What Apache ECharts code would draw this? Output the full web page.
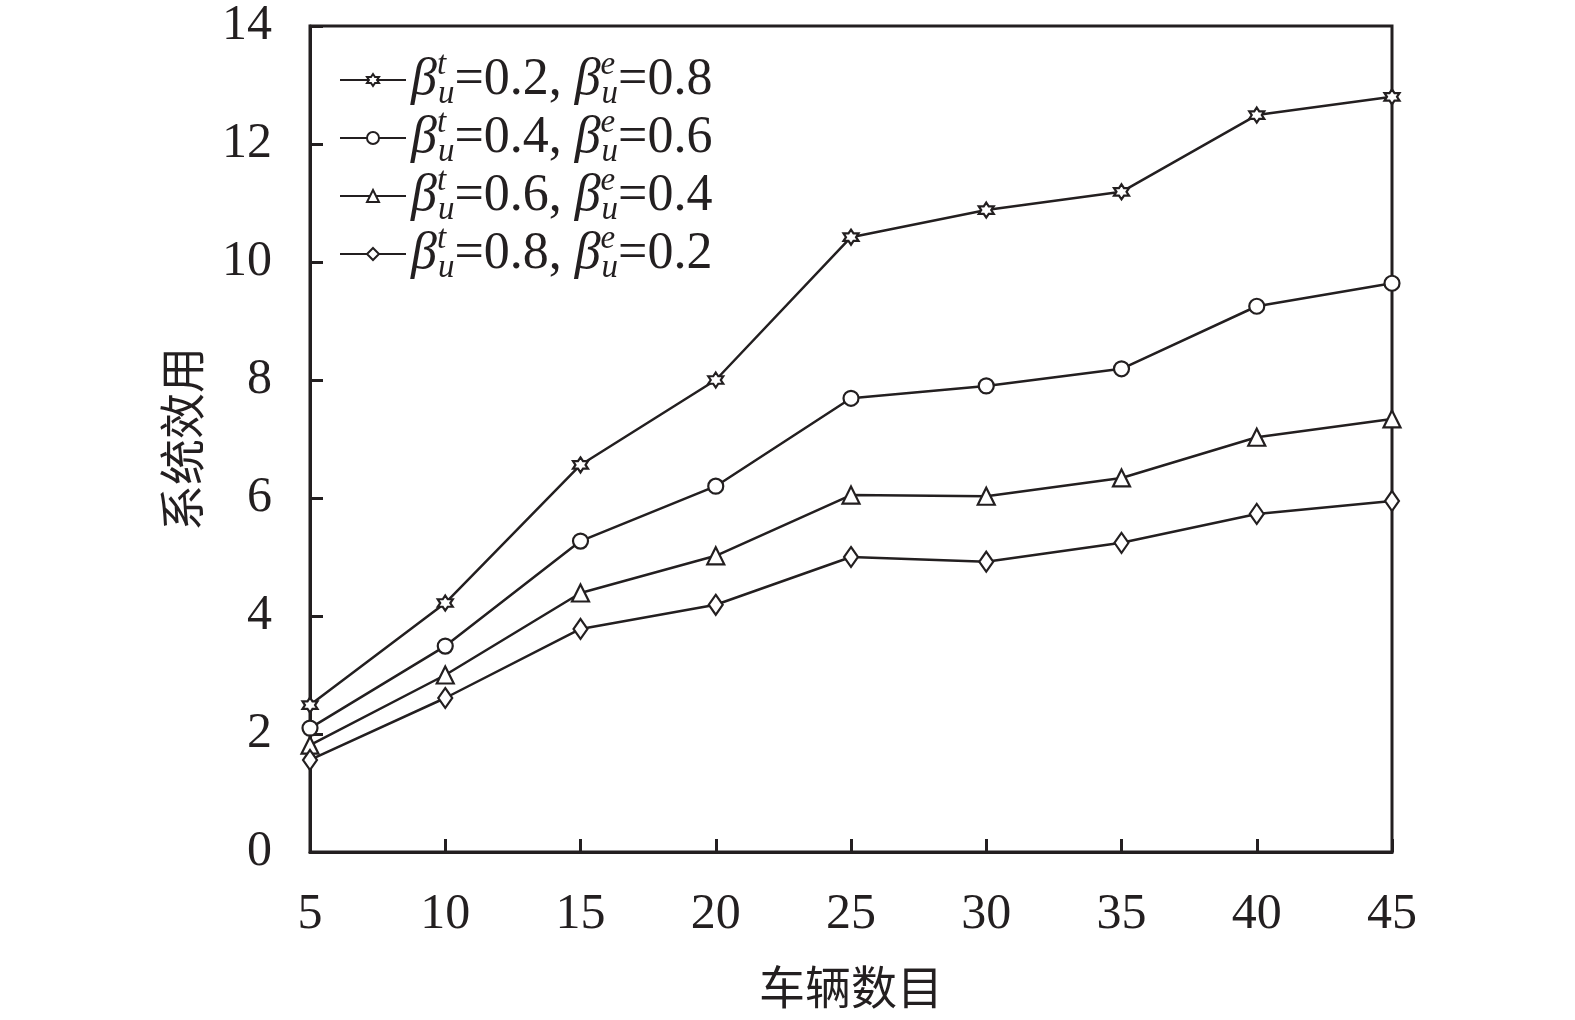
<!DOCTYPE html>
<html>
<head>
<meta charset="utf-8">
<script src="https://cdn.jsdelivr.net/npm/echarts@6/dist/echarts.min.js"></script>
<style>html,body{margin:0;padding:0;background:#fff}#c{width:1575px;height:1020px}</style>
</head>
<body>
<div id="c"></div>
<script>
const vehicles = [5, 10, 15, 20, 25, 30, 35, 40, 45];
const betaT = [0.2, 0.4, 0.6, 0.8];
const betaE = [0.8, 0.6, 0.4, 0.2];
const utilA = [2.49, 4.22, 6.56, 8.0, 10.42, 10.88, 11.19, 12.49, 12.8];
const utilB = [2.1, 3.49, 5.27, 6.2, 7.69, 7.9, 8.19, 9.25, 9.64];
const utilC = [1.81, 3.0, 4.39, 5.02, 6.05, 6.03, 6.34, 7.03, 7.34];
const utilD = [1.56, 2.61, 3.78, 4.19, 5.0, 4.92, 5.24, 5.73, 5.95];
const yTicks = [0, 2, 4, 6, 8, 10, 12, 14];
const xTitle = '车辆数目';
const yTitle = '系统效用';

const INK = '#231f20';
const SERIF = '"Liberation Serif","Times New Roman",serif';
const CJK = '"Noto Sans CJK SC",sans-serif';
const star = 'path://M0,-10 L2.9,-5 L8.66,-5 L5.8,0 L8.66,5 L2.9,5 L0,10 L-2.9,5 L-8.66,5 L-5.8,0 L-8.66,-5 L-2.9,-5 Z';
const diamond = 'path://M0,-10 L7,0 L0,10 L-7,0 Z';
const symbols = [star, 'circle', 'triangle', diamond];
const symSizes = [15, 15, 17, [14, 20]];
const allData = [utilA, utilB, utilC, utilD];

const names = betaT.map((t, i) => 'βtu=' + t + ', βeu=' + betaE[i]);

const series = allData.map((d, i) => ({
  name: names[i],
  type: 'line',
  data: d.map((v, j) => [vehicles[j], v]),
  symbol: symbols[i],
  symbolSize: symSizes[i],
  showAllSymbol: true,
  lineStyle: { color: INK, width: 2.5 },
  itemStyle: { color: '#fff', borderColor: INK, borderWidth: 2.2 },
  emphasis: { disabled: true },
  z: 3
}));

const chart = echarts.init(document.getElementById('c'), null, { renderer: 'canvas' });
chart.setOption({
  animation: false,
  backgroundColor: '#fff',
  grid: {
    left: 310, right: 183, top: 26, bottom: 168,
    show: true, borderColor: INK, borderWidth: 3, backgroundColor: 'transparent'
  },
  legend: {
    orient: 'vertical',
    left: 334, top: 44,
    itemWidth: 66, itemHeight: 15, itemGap: -4,
    selectedMode: false,
    formatter: function (name) {
      const i = names.indexOf(name);
      return '{b|β}{sp|t}{sb|u}{r|=' + betaT[i].toFixed(1) + ', }{b|β}{sp|e}{sb|u}{r|=' + betaE[i].toFixed(1) + '}';
    },
    textStyle: {
      color: INK,
      rich: {
        b: { fontFamily: SERIF, fontStyle: 'italic', fontSize: 52, color: INK, lineHeight: 62 },
        sp: { fontFamily: SERIF, fontStyle: 'italic', fontSize: 33, color: INK, verticalAlign: 'top', lineHeight: 40, width: 1 },
        sb: { fontFamily: SERIF, fontStyle: 'italic', fontSize: 33, color: INK, verticalAlign: 'bottom', lineHeight: 40 },
        r: { fontFamily: SERIF, fontSize: 52, color: INK, lineHeight: 62 }
      }
    },
    data: names
  },
  xAxis: {
    type: 'value', min: 5, max: 45, interval: 5,
    name: xTitle, nameLocation: 'middle', nameGap: 112,
    nameTextStyle: { fontFamily: CJK, fontSize: 46, color: INK },
    axisLine: { show: true, lineStyle: { color: INK, width: 3 } },
    axisTick: { show: true, inside: true, length: 13, lineStyle: { color: INK, width: 3 } },
    axisLabel: { fontFamily: SERIF, fontSize: 50, color: INK, margin: 38 },
    splitLine: { show: false }
  },
  yAxis: {
    type: 'value', min: yTicks[0], max: yTicks[yTicks.length - 1], interval: 2,
    name: yTitle, nameLocation: 'middle', nameGap: 105, nameRotate: 90,
    nameTextStyle: { fontFamily: CJK, fontSize: 46, color: INK },
    axisLine: { show: true, lineStyle: { color: INK, width: 3 } },
    axisTick: { show: true, inside: true, length: 13, lineStyle: { color: INK, width: 3 } },
    axisLabel: { fontFamily: SERIF, fontSize: 50, color: INK, margin: 38 },
    splitLine: { show: false }
  },
  series: series
});
</script>
</body>
</html>
